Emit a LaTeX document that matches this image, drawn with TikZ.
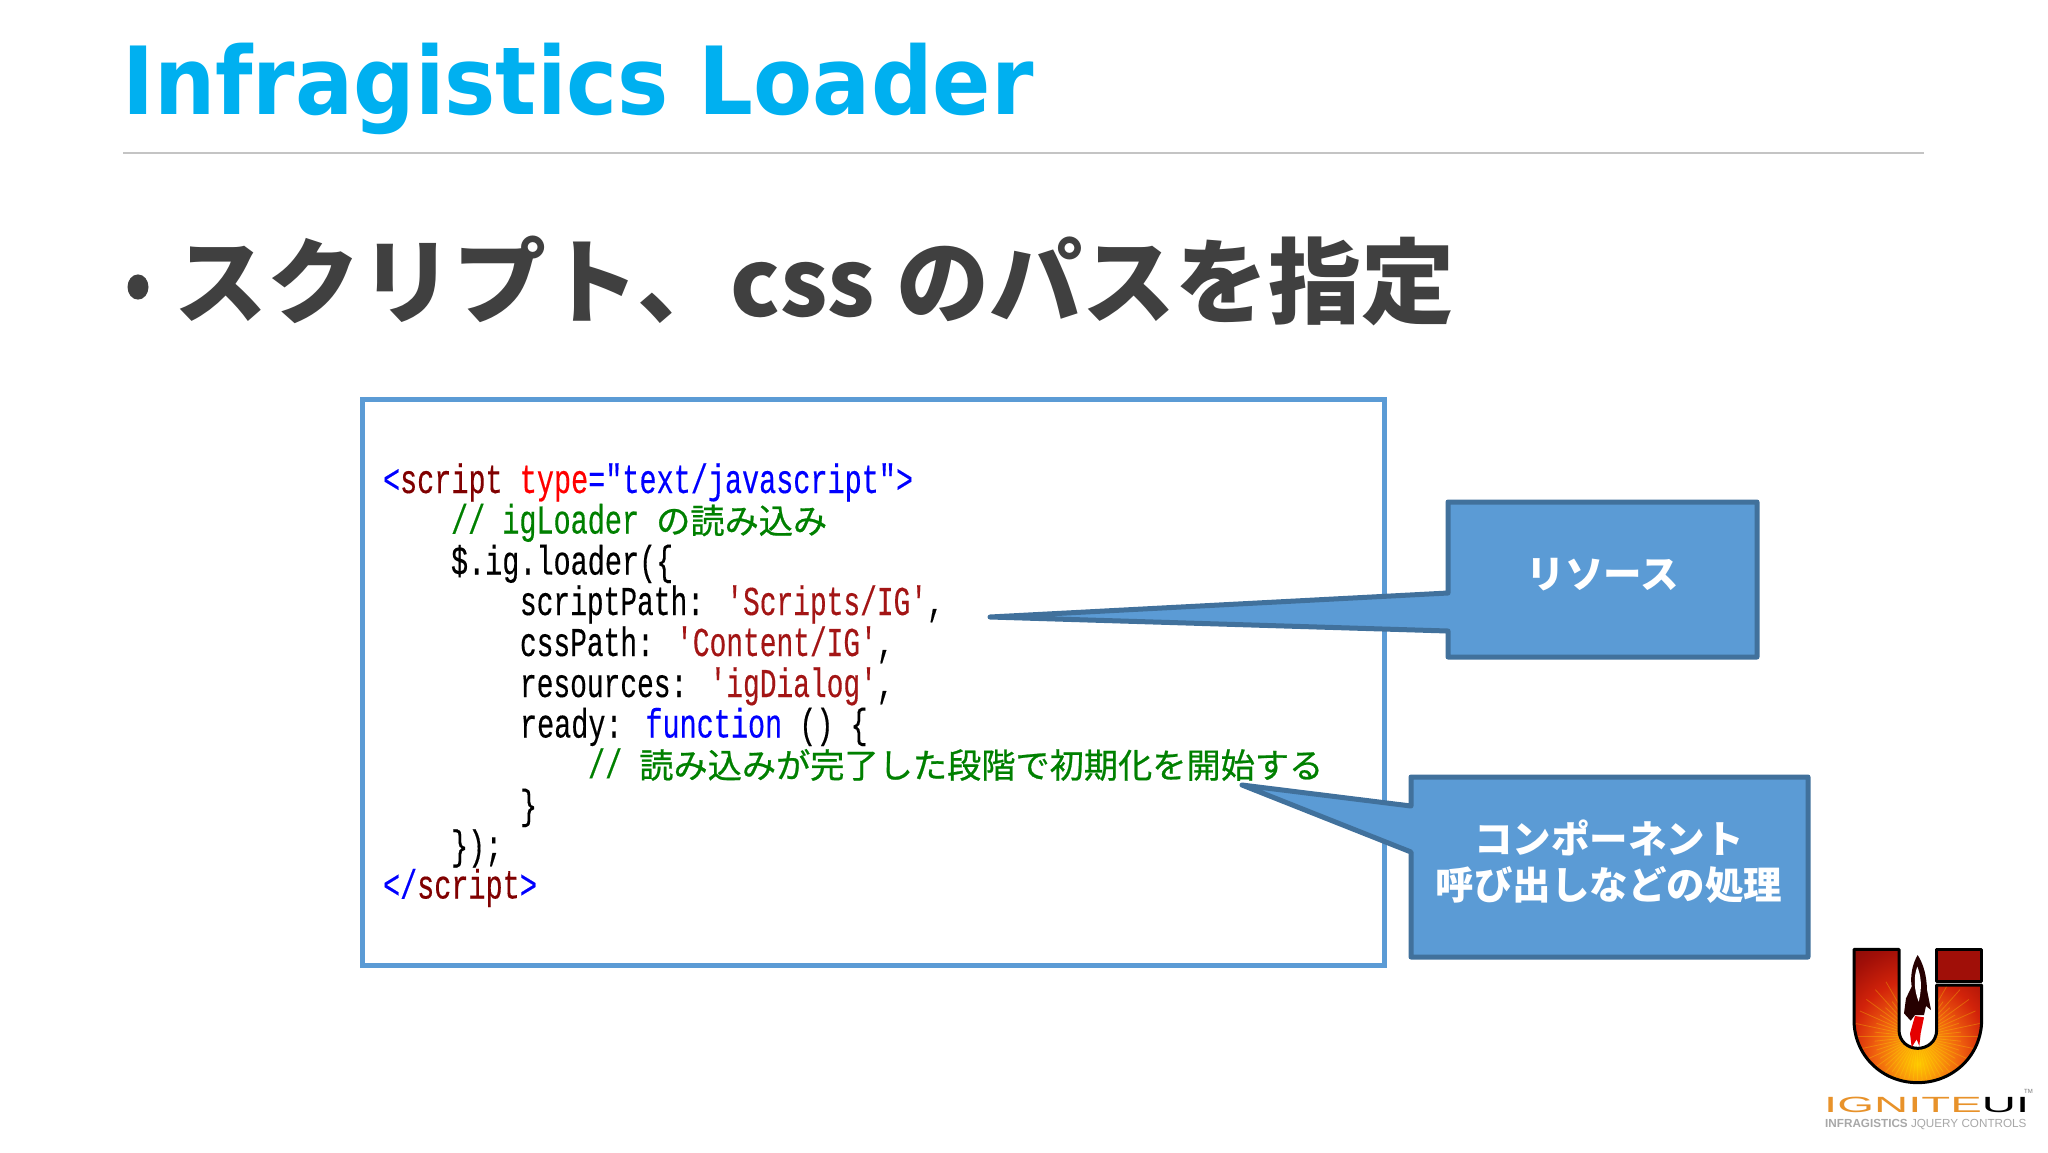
\documentclass[tikz,border=0pt]{standalone}
\usepackage{fontspec}
\setmainfont{Noto Sans}
\newfontfamily\jp{Noto Sans CJK JP}
\newfontfamily\jpcode[FakeBold=0.7]{Noto Sans CJK JP}
\newfontfamily\titlefont[FakeStretch=0.916]{DejaVu Sans}
\newfontfamily\codefont[FakeStretch=0.695,FakeBold=0.3]{Liberation Mono}
\newfontfamily\codenarrow[FakeStretch=0.68,FakeBold=0.3]{Liberation Mono}
\newfontfamily\wordfont[FakeStretch=2.15]{Liberation Sans}
\newfontfamily\smallfont{Liberation Sans}
\definecolor{titleblue}{HTML}{00B0F0}
\definecolor{darkgrey}{HTML}{404040}
\definecolor{boxblue}{HTML}{5B9BD5}
\definecolor{edgeblue}{HTML}{41719C}
\definecolor{rulegrey}{HTML}{C4C4C4}
\definecolor{cgreen}{HTML}{008000}
\definecolor{cblue}{HTML}{0000FF}
\definecolor{cred}{HTML}{FF0000}
\definecolor{ctag}{HTML}{800000}
\definecolor{cstr}{HTML}{A31515}
\definecolor{ignorange}{HTML}{E8922A}
\definecolor{iggrey}{HTML}{A8A8A8}
\definecolor{fireA}{HTML}{FFC800}
\definecolor{fireB}{HTML}{FA9A0A}
\definecolor{fireC}{HTML}{F0600F}
\definecolor{fireD}{HTML}{D2230A}
\definecolor{fireE}{HTML}{A00F08}
\definecolor{fireF}{HTML}{6A0A08}
\definecolor{fireG}{HTML}{460505}
\newcommand{\cj}[1]{{\jpcode\fontsize{34.2}{34.2}\selectfont #1}}
\pgfdeclareradialshading{fire}{\pgfpoint{0bp}{-18bp}}{%
  color(0bp)=(fireA);
  color(8bp)=(fireB);
  color(17bp)=(fireC);
  color(27bp)=(fireD);
  color(38bp)=(fireE);
  color(52bp)=(fireF);
  color(100bp)=(fireG)}
\tikzset{
  codeline/.style={anchor=base west,inner sep=0pt,outer sep=0pt,font=\codefont\fontsize{41}{41}\selectfont},
  codeshort/.style={codeline,font=\codenarrow\fontsize{41}{41}\selectfont},
  callout/.style={fill=boxblue,draw=edgeblue,line width=5pt,line join=round},
  calltext/.style={text=white,align=center,inner sep=0pt,font=\jp\bfseries\fontsize{38.5}{46}\selectfont},
  logoline/.style={draw=black,line width=3pt,line join=round}
}
\newcommand{\uoutline}{(162,58) -- (297,58) -- (297,300) .. controls (297,335) and (325,355) .. (353,355) .. controls (382,355) and (410,335) .. (410,300) -- (410,165) -- (545,165) -- (545,270) .. controls (545,375) and (460,458) .. (353,458) .. controls (245,458) and (162,375) .. (162,270) -- cycle}
\begin{document}
\begin{tikzpicture}[x=1pt,y=-1pt]
\useasboundingbox (0,0) rectangle (2048,1152);
\fill[white] (0,0) rectangle (2048,1152);
% heading
\node[anchor=base west,inner sep=0pt,text=titleblue,font=\titlefont\bfseries\fontsize{94}{94}\selectfont] (title) at (122,114) {Infragistics Loader};
\coordinate (ruleL) at (123,153);
\coordinate (ruleR) at (1924,153);
\draw[rulegrey,line width=1.6pt] (ruleL) -- (ruleR);
\node[circle,fill=darkgrey,minimum size=21pt,inner sep=0pt,yscale=1.2] (bullet) at (138,287) {};
\node[anchor=base west,inner sep=0pt,text=darkgrey,font=\jp\bfseries\fontsize{93}{93}\selectfont] (subtitle) at (174,316) {スクリプト、css のパスを指定};
% code box
\node[draw=boxblue,line width=5pt,fill=white,minimum width=1022pt,minimum height=566pt,inner sep=0pt,outer sep=0pt,anchor=north west] (codebox) at (362.5,399) {};
\node[codeline] (c1) at (383,493) {\textcolor{cblue}{<}\textcolor{ctag}{script} \textcolor{cred}{type}\textcolor{cblue}{="text/javascript">}};
\node[codeline,text=cgreen] (c2) at (451,533.5) {// igLoader \cj{の読み込み}};
\node[codeline] (c3) at (451,574.5) {\$.ig.loader(\{};
\node[codeshort] (c4) at (520,615) {scriptPath: \textcolor{cstr}{'Scripts/IG'},};
\node[codeshort] (c5) at (520,656) {cssPath: \textcolor{cstr}{'Content/IG'},};
\node[codeshort] (c6) at (520,697) {resources: \textcolor{cstr}{'igDialog'},};
\node[codeline] (c7) at (520,737.5) {ready: \textcolor{cblue}{function} () \{};
\node[codeline,text=cgreen] (c8) at (588,778) {// \cj{読み込みが完了した段階で初期化を開始する}};
\node[codeline] (c9) at (520,818.5) {\}};
\node[codeline] (c10) at (451,859) {\});};
\node[codeline] (c11) at (383,898.5) {\textcolor{cblue}{</}\textcolor{ctag}{script}\textcolor{cblue}{>}};
% callouts
\draw[callout] (1448,502) -- (1757,502) -- (1757,657) -- (1448,657) -- (1448,631) -- (990,617) -- (1448,593) -- cycle;
\node[calltext] (t1) at (1603,575) {リソース};
\draw[callout] (1411,777) -- (1808,777) -- (1808,957) -- (1411,957) -- (1411,852) -- (1242,785) -- (1411,806) -- cycle;
\node[calltext] (t2) at (1609,862) {コンポーネント\\呼び出しなどの処理};
% logo
\begin{scope}[shift={(1800,930)},x=0.3333pt,y=-0.3333pt]
\path[shading=fire] \uoutline;
\begin{scope}
\clip \uoutline;
\foreach \a in {0,6,...,354}{
  \pgfmathsetmacro{\len}{mod(\a,12)==0 ? 190 : 130}
  \draw[yellow!80!orange,opacity=0.3,line width=0.8pt] (353,320) -- ++(\a:\len);
}
\end{scope}
\path[logoline] \uoutline;
\path[logoline,fill=fireE] (410,58) -- (545,58) -- (545,155) -- (410,155) -- cycle;
\fill[black!85!red] (353,75) .. controls (372,105) and (380,140) .. (381,180) -- (393,240) -- (378,228) -- (372,255) -- (345,255) -- (332,272) -- (312,250) -- (318,205) -- (335,170) .. controls (330,135) and (338,100) .. (353,75) -- cycle;
\fill[white] (352,110) .. controls (362,135) and (368,170) .. (356,215) .. controls (342,180) and (340,140) .. (352,110) -- cycle;
\fill[red!90!black] (345,258) -- (372,262) -- (362,310) -- (358,348) -- (350,328) -- (335,352) -- (330,310) -- cycle;
\node[anchor=base west,inner sep=0pt,font=\wordfont\fontsize{22}{22}\selectfont] (word) at (72,547) {\textcolor{ignorange}{IGNITE}\textcolor{black}{UI}};
\node[anchor=base west,inner sep=0pt,text=iggrey!70!black,font=\smallfont\fontsize{6}{6}\selectfont] (tm) at (672,490) {TM};
\node[anchor=base west,inner sep=0pt,text=iggrey,font=\smallfont\fontsize{11.7}{12}\selectfont] (tag) at (75,592) {\textbf{INFRAGISTICS} JQUERY CONTROLS};
\end{scope}
\end{tikzpicture}
\end{document}
